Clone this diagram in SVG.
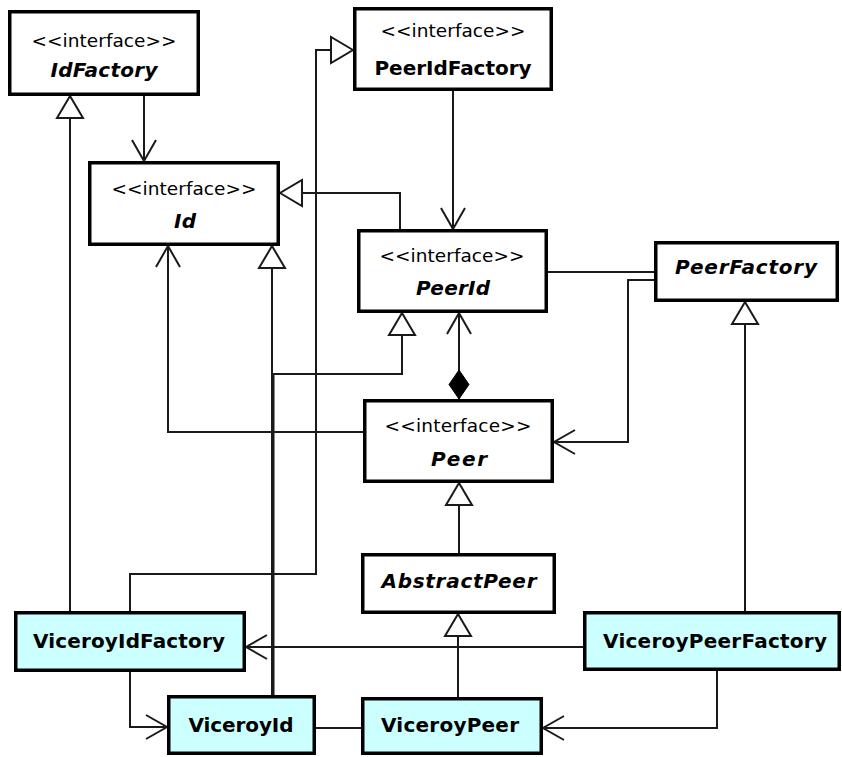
<svg xmlns="http://www.w3.org/2000/svg" width="842" height="757" viewBox="0 0 842 757">
  <style>
    .box { fill: #ffffff; stroke: #000000; stroke-width: 3.5; }
    .impl { fill: #ccffff; stroke: #000000; stroke-width: 3.5; }
    .st { font-family: "DejaVu Sans", "Liberation Sans", sans-serif; font-size: 18.5px; fill: #000; text-anchor: middle; }
    .nm { font-family: "DejaVu Sans", "Liberation Sans", sans-serif; font-size: 20px; font-weight: bold; fill: #000; text-anchor: middle; }
    .it { font-style: italic; }
    .ln { fill: none; stroke: #1a1a1a; stroke-width: 2; }
  </style>
  <defs>
    <marker id="open" markerUnits="userSpaceOnUse" viewBox="-30 -16 34 32" markerWidth="34" markerHeight="32" refX="0" refY="0" orient="auto" overflow="visible">
      <path d="M-21,-12 L0,0 L-21,12" fill="none" stroke="#1a1a1a" stroke-width="2"/>
    </marker>
    <marker id="tri" markerUnits="userSpaceOnUse" viewBox="-30 -16 34 32" markerWidth="34" markerHeight="32" refX="0" refY="0" orient="auto" overflow="visible">
      <path d="M0,0 L-22,-13 L-22,13 Z" fill="#ffffff" stroke="#1a1a1a" stroke-width="2"/>
    </marker>
    <marker id="diamond" markerUnits="userSpaceOnUse" viewBox="-4 -14 38 28" markerWidth="38" markerHeight="28" refX="0" refY="0" orient="auto" overflow="visible">
      <path d="M0,0 L14.5,-10 L29,0 L14.5,10 Z" fill="#000000" stroke="#000000" stroke-width="1"/>
    </marker>
  </defs>

  <g id="connectors">
    <!-- IdFactory creates Id -->
    <path class="ln" d="M144,96 L144,161" marker-end="url(#open)"/>
    <!-- ViceroyIdFactory implements IdFactory -->
    <path class="ln" d="M70,611 L70,96" marker-end="url(#tri)"/>
    <!-- ViceroyIdFactory implements PeerIdFactory -->
    <path class="ln" d="M130,611 L130,574 L316,574 L316,50 L353,50" marker-end="url(#tri)"/>
    <!-- PeerIdFactory creates PeerId -->
    <path class="ln" d="M453,91 L453,229" marker-end="url(#open)"/>
    <!-- PeerId extends Id -->
    <path class="ln" d="M400,229 L400,193 L280,193" marker-end="url(#tri)"/>
    <!-- PeerId - PeerFactory -->
    <path class="ln" d="M548,272 L654,272"/>
    <!-- PeerFactory creates Peer -->
    <path class="ln" d="M654,280 L628,280 L628,442 L554,442" marker-end="url(#open)"/>
    <!-- ViceroyPeerFactory implements PeerFactory -->
    <path class="ln" d="M745,611 L745,302" marker-end="url(#tri)"/>
    <!-- Peer uses Id -->
    <path class="ln" d="M363,432 L168,432 L168,246" marker-end="url(#open)"/>
    <!-- ViceroyId implements Id -->
    <path class="ln" d="M272,695 L272,246" marker-end="url(#tri)"/>
    <!-- ViceroyId implements PeerId -->
    <path class="ln" d="M273.5,695 L273.5,374 L402,374 L402,313" marker-end="url(#tri)"/>
    <!-- Peer owns PeerId -->
    <path class="ln" d="M459,399 L459,313" marker-start="url(#diamond)" marker-end="url(#open)"/>
    <!-- AbstractPeer implements Peer -->
    <path class="ln" d="M459,553 L459,483" marker-end="url(#tri)"/>
    <!-- ViceroyPeer extends AbstractPeer -->
    <path class="ln" d="M458,697 L458,614" marker-end="url(#tri)"/>
    <!-- ViceroyPeerFactory uses ViceroyIdFactory -->
    <path class="ln" d="M583,647 L246,647" marker-end="url(#open)"/>
    <!-- ViceroyIdFactory creates ViceroyId -->
    <path class="ln" d="M130,672 L130,727 L167,727" marker-end="url(#open)"/>
    <!-- ViceroyId - ViceroyPeer -->
    <path class="ln" d="M316,728 L361,728"/>
    <!-- ViceroyPeerFactory creates ViceroyPeer -->
    <path class="ln" d="M717,671 L717,728 L543,728" marker-end="url(#open)"/>
  </g>

  <g id="IdFactory">
    <rect class="box" x="9.75" y="11.75" width="188.5" height="82.5"/>
    <text class="st" x="104" y="47" textLength="145">&lt;&lt;interface&gt;&gt;</text>
    <text class="nm it" x="104" y="77" textLength="107">IdFactory</text>
  </g>

  <g id="PeerIdFactory">
    <rect class="box" x="354.75" y="8.75" width="196.5" height="80.5"/>
    <text class="st" x="453" y="37" textLength="145">&lt;&lt;interface&gt;&gt;</text>
    <text class="nm" x="453" y="75" textLength="157">PeerIdFactory</text>
  </g>

  <g id="Id">
    <rect class="box" x="89.75" y="162.75" width="188.5" height="81.5"/>
    <text class="st" x="184" y="195" textLength="145">&lt;&lt;interface&gt;&gt;</text>
    <text class="nm it" x="185" y="228" textLength="22">Id</text>
  </g>

  <g id="PeerId">
    <rect class="box" x="358.75" y="230.75" width="187.5" height="80.5"/>
    <text class="st" x="452" y="262" textLength="145">&lt;&lt;interface&gt;&gt;</text>
    <text class="nm it" x="453" y="295" textLength="74">PeerId</text>
  </g>

  <g id="PeerFactory">
    <rect class="box" x="655.75" y="242.75" width="181.5" height="57.5"/>
    <text class="nm it" x="746" y="274" textLength="142">PeerFactory</text>
  </g>

  <g id="Peer">
    <rect class="box" x="364.75" y="400.75" width="187.5" height="80.5"/>
    <text class="st" x="458" y="432" textLength="147">&lt;&lt;interface&gt;&gt;</text>
    <text class="nm it" x="459" y="466" textLength="56">Peer</text>
  </g>

  <g id="AbstractPeer">
    <rect class="box" x="362.75" y="554.75" width="191.5" height="57.5"/>
    <text class="nm it" x="459" y="588" textLength="155">AbstractPeer</text>
  </g>

  <g id="ViceroyIdFactory">
    <rect class="impl" x="15.75" y="612.75" width="228.5" height="57.5"/>
    <text class="nm" x="129" y="648" textLength="192">ViceroyIdFactory</text>
  </g>

  <g id="ViceroyPeerFactory">
    <rect class="impl" x="584.75" y="612.75" width="254.5" height="56.5"/>
    <text class="nm" x="715" y="648" textLength="224">ViceroyPeerFactory</text>
  </g>

  <g id="ViceroyId">
    <rect class="impl" x="168.75" y="696.75" width="145.5" height="56.5"/>
    <text class="nm" x="241" y="732" textLength="105">ViceroyId</text>
  </g>

  <g id="ViceroyPeer">
    <rect class="impl" x="362.75" y="698.75" width="178.5" height="54.5"/>
    <text class="nm" x="450" y="732" textLength="138">ViceroyPeer</text>
  </g>
</svg>
